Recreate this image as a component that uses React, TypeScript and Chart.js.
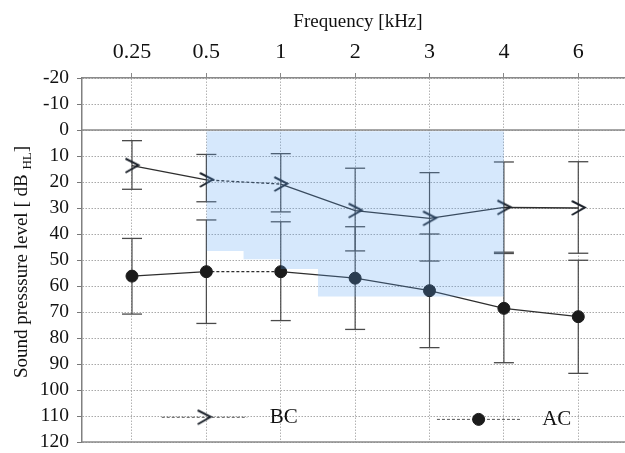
import React, { useEffect, useRef } from "react";
import { Chart, registerables } from "chart.js";

Chart.register(...registerables);

// ---- data ----
const frequencies = ["0.25", "0.5", "1", "2", "3", "4", "6"];
const bcMean = [13.7, 19.2, 20.8, 31, 34, 29.8, 30];
const bcUpper = [4.1, 9.4, 9.1, 14.7, 16.4, 12.3, 12.2];
const bcLower = [22.8, 27.6, 31.5, 46.5, 50.4, 47, 47.4];
const acMean = [56.2, 54.5, 54.5, 57, 61.8, 68.6, 71.8];
const acUpper = [41.7, 34.6, 35.3, 37.2, 40, 47.5, 50.1];
const acLower = [70.8, 74.4, 73.3, 76.7, 83.7, 89.5, 93.6];
const shadeX = [1, 1.5, 2, 2.5, 5];
const shadeBottom = [46.5, 49.7, 53.5, 64, 64];
const shadeTop = 0.5;
const yMin = -20;
const yMax = 120;
const yStep = 10;
const solidLevels = [0, 120];

const FONT = "'Liberation Serif', 'Times New Roman', serif";

function makeArrow(): HTMLCanvasElement {
  const c = document.createElement("canvas");
  c.width = 18;
  c.height = 18;
  const g = c.getContext("2d")!;
  g.strokeStyle = "#1c222b";
  g.lineWidth = 2;
  g.lineJoin = "miter";
  g.beginPath();
  g.moveTo(2.5, 2);
  g.lineTo(15.5, 8.5);
  g.lineTo(2.5, 16);
  g.stroke();
  return c;
}

function errorData(upper: number[], lower: number[]) {
  const out: { x: number; y: number | null }[] = [];
  upper.forEach((u, i) => {
    out.push({ x: i, y: u });
    out.push({ x: i, y: lower[i] });
    out.push({ x: i, y: null });
  });
  return out;
}

export default function App() {
  const ref = useRef<HTMLCanvasElement | null>(null);

  useEffect(() => {
    if (!ref.current) return;
    const arrow = makeArrow();

    const overlay = {
      id: "overlay",
      beforeDatasetsDraw(chart: any) {
        const { ctx, chartArea, scales } = chart;
        ctx.save();
        ctx.strokeStyle = "#8a8a8a";
        ctx.lineWidth = 1.5;
        solidLevels.forEach((v) => {
          const y = scales.y.getPixelForValue(v);
          ctx.beginPath();
          ctx.moveTo(chartArea.left, y);
          ctx.lineTo(chartArea.right, y);
          ctx.stroke();
        });
        ctx.restore();
      },
      afterDraw(chart: any) {
        const { ctx, scales } = chart;
        // x axis title
        ctx.save();
        ctx.fillStyle = "#111";
        ctx.font = `19px ${FONT}`;
        ctx.textAlign = "center";
        ctx.textBaseline = "middle";
        ctx.fillText("Frequency [kHz]", 358, 22);
        ctx.restore();

        ctx.save();
        // y axis title with subscript
        const main = "Sound presssure level [ dB ";
        const sub = "HL";
        const end = "]";
        ctx.fillStyle = "#111";
        ctx.font = `19px ${FONT}`;
        const wMain = ctx.measureText(main).width;
        const wEnd = ctx.measureText(end).width;
        ctx.font = `13px ${FONT}`;
        const wSub = ctx.measureText(sub).width;
        const total = wMain + wSub + wEnd;
        ctx.translate(27, 262);
        ctx.rotate(-Math.PI / 2);
        ctx.textBaseline = "alphabetic";
        ctx.textAlign = "left";
        let x = -total / 2;
        ctx.font = `19px ${FONT}`;
        ctx.fillText(main, x, 0);
        x += wMain;
        ctx.font = `13px ${FONT}`;
        ctx.fillText(sub, x, 4);
        x += wSub;
        ctx.font = `19px ${FONT}`;
        ctx.fillText(end, x, 0);
        ctx.restore();

        // legend labels
        ctx.save();
        ctx.fillStyle = "#111";
        ctx.font = `21px ${FONT}`;
        ctx.textAlign = "center";
        ctx.textBaseline = "middle";
        ctx.fillText("BC", scales.x.getPixelForValue(2.04), scales.y.getPixelForValue(110.5));
        ctx.fillText("AC", scales.x.getPixelForValue(5.71), scales.y.getPixelForValue(111.3));
        ctx.restore();
      },
    };

    const dashMid = (c: any) => (c.p0DataIndex === 1 ? [3, 2] : undefined);

    const chart = new Chart(ref.current, {
      type: "line",
      data: {
        datasets: [
          {
            label: "shade",
            data: shadeX.map((x, i) => ({ x, y: shadeBottom[i] })),
            stepped: true,
            fill: { value: shadeTop },
            backgroundColor: "rgba(91,163,243,0.25)",
            borderColor: "transparent",
            borderWidth: 0,
            pointRadius: 0,
            order: 0,
          },
          {
            label: "BC",
            data: bcMean.map((y, i) => ({ x: i, y })),
            borderColor: "#2e2e2e",
            borderWidth: 1.3,
            pointStyle: arrow,
            pointRadius: 8,
            segment: { borderDash: dashMid },
            order: 1,
          },
          {
            label: "AC",
            data: acMean.map((y, i) => ({ x: i, y })),
            borderColor: "#2e2e2e",
            borderWidth: 1.3,
            pointStyle: "circle",
            pointRadius: 6,
            pointBackgroundColor: "#1b1b1b",
            pointBorderColor: "#1b1b1b",
            pointBorderWidth: 1,
            segment: { borderDash: dashMid },
            order: 2,
          },
          {
            label: "BC err",
            data: errorData(bcUpper, bcLower),
            borderColor: "#4a4a4a",
            borderWidth: 1.2,
            spanGaps: false,
            pointStyle: "line",
            pointRadius: 10,
            pointBorderColor: "#4a4a4a",
            pointBorderWidth: 1.3,
            order: 3,
          },
          {
            label: "AC err",
            data: errorData(acUpper, acLower),
            borderColor: "#4a4a4a",
            borderWidth: 1.2,
            spanGaps: false,
            pointStyle: "line",
            pointRadius: 10,
            pointBorderColor: "#4a4a4a",
            pointBorderWidth: 1.3,
            order: 4,
          },
          {
            label: "legend BC",
            data: [
              { x: 0.4, y: 110.5 },
              { x: 0.97, y: 110.5 },
              { x: 1.55, y: 110.5 },
            ],
            borderColor: "#555",
            borderWidth: 1,
            borderDash: [3, 2],
            pointStyle: arrow,
            pointRadius: [0, 8, 0],
            order: 5,
          },
          {
            label: "legend AC",
            data: [
              { x: 4.1, y: 111.3 },
              { x: 4.66, y: 111.3 },
              { x: 5.24, y: 111.3 },
            ],
            borderColor: "#555",
            borderWidth: 1,
            borderDash: [3, 2],
            pointStyle: "circle",
            pointRadius: [0, 6, 0],
            pointBackgroundColor: "#1b1b1b",
            pointBorderColor: "#1b1b1b",
            order: 6,
          },
        ],
      },
      options: {
        animation: false,
        responsive: false,
        events: [],
        layout: { autoPadding: false, padding: { left: 0, right: 0, top: 0, bottom: 11 } },
        plugins: {
          legend: { display: false },
          tooltip: { enabled: false },
        },
        scales: {
          x: {
            type: "linear",
            position: "top",
            min: -0.672,
            max: 6.628,
            afterBuildTicks: (s: any) => {
              s.ticks = frequencies.map((_, i) => ({ value: i }));
            },
            afterFit: (s: any) => {
              s.height = 78;
              s.paddingLeft = 0;
              s.paddingRight = 0;
            },
            ticks: {
              callback: (v: any) => frequencies[v] ?? "",
              font: { family: FONT, size: 22 },
              color: "#111",
              padding: 8,
              maxRotation: 0,
              autoSkip: false,
            },
            grid: {
              color: "#b3b3b3",
              lineWidth: 1,
              tickLength: 5,
              tickColor: "#888",
            },
            border: { display: true, color: "#8a8a8a", width: 1.5, dash: [1.5, 1.5] },
            title: { display: false },
          },
          y: {
            type: "linear",
            reverse: true,
            min: yMin,
            max: yMax,
            afterFit: (s: any) => {
              s.width = 82;
              s.paddingTop = 0;
              s.paddingBottom = 0;
            },
            ticks: {
              stepSize: yStep,
              autoSkip: false,
              font: { family: FONT, size: 19.5 },
              color: "#111",
              padding: 8,
            },
            grid: {
              color: "#a8a8a8",
              lineWidth: 1,
              tickLength: 5,
              tickColor: "#777",
            },
            border: { display: true, color: "#808080", width: 1.5, dash: [1.5, 1.5] },
          },
        },
      },
      plugins: [overlay],
    } as any);

    return () => chart.destroy();
  }, []);

  return (
    <div style={{ position: "fixed", left: 0, top: 0, width: 625, height: 453, background: "#fff" }}>
      <canvas ref={ref} width={625} height={453} style={{ width: 625, height: 453, display: "block" }} />
    </div>
  );
}
